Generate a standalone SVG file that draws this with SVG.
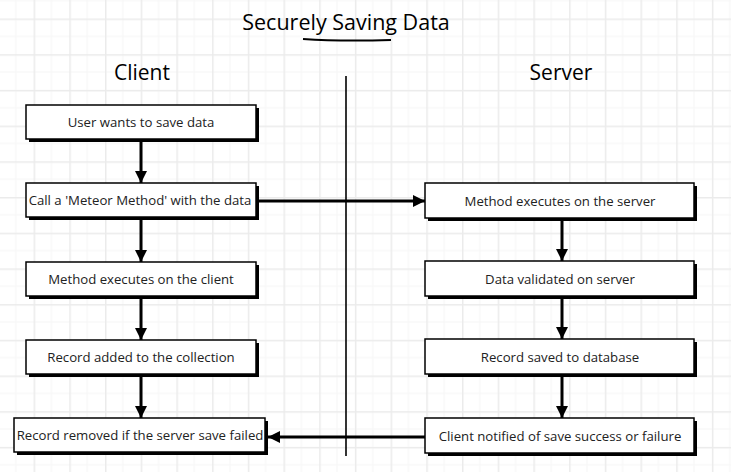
<svg xmlns="http://www.w3.org/2000/svg" width="731" height="472" viewBox="0 0 731 472">
<defs>
<pattern id="grid" x="-2.1" y="18.5" width="35.7" height="35.7" patternUnits="userSpaceOnUse">
<line x1="17.85" y1="0" x2="17.85" y2="35.7" stroke="#f5f5f5" stroke-width="1"/>
<line x1="0" y1="17.85" x2="35.7" y2="17.85" stroke="#f5f5f5" stroke-width="1"/>
<line x1="0.75" y1="0" x2="0.75" y2="35.7" stroke="#ebebeb" stroke-width="1.5"/>
<line x1="0" y1="0.75" x2="35.7" y2="0.75" stroke="#ebebeb" stroke-width="1.5"/>
</pattern>
<marker id="ah" markerUnits="userSpaceOnUse" markerWidth="14" markerHeight="14" refX="12" refY="7" orient="auto">
<path d="M0,1 L12,7 L0,13 Z" fill="#000"/>
</marker>
<style>
.shadow{fill:#000}
.box{fill:#fff;stroke:#000;stroke-width:1.5}
.lbl{font-family:"Open Sans","Liberation Sans",sans-serif;font-size:13.2px;fill:#222;text-anchor:middle;dominant-baseline:central}
.head{font-family:"Open Sans","Liberation Sans",sans-serif;fill:#000;text-anchor:middle}
.conn{stroke:#000;stroke-width:3;fill:none}
</style>
</defs>
<rect width="731" height="472" fill="#fff"/>
<rect width="731" height="472" fill="url(#grid)"/>

<g id="title">
<text class="head" x="346" y="30" font-size="21.5">Securely Saving Data</text>
<path d="M303,39 Q340,41.5 391,40" stroke="#000" stroke-width="2" fill="none"/>
</g>
<g id="client-header"><text class="head" x="142" y="80" font-size="21">Client</text></g>
<g id="server-header"><text class="head" x="561" y="80" font-size="21">Server</text></g>
<g id="divider"><line x1="346" y1="76" x2="346" y2="456" stroke="#000" stroke-width="1.6"/></g>

<g id="connectors">
<line class="conn" x1="141" y1="142" x2="141" y2="183" marker-end="url(#ah)"/>
<line class="conn" x1="141" y1="220" x2="141" y2="262" marker-end="url(#ah)"/>
<line class="conn" x1="141" y1="299" x2="141" y2="340" marker-end="url(#ah)"/>
<line class="conn" x1="141" y1="377" x2="141" y2="418" marker-end="url(#ah)"/>
<line class="conn" x1="259" y1="201" x2="425" y2="201" marker-end="url(#ah)"/>
<line class="conn" x1="562" y1="221" x2="562" y2="261" marker-end="url(#ah)"/>
<line class="conn" x1="562" y1="299" x2="562" y2="339" marker-end="url(#ah)"/>
<line class="conn" x1="562" y1="377" x2="562" y2="418" marker-end="url(#ah)"/>
<line class="conn" x1="425" y1="437" x2="268" y2="437" marker-end="url(#ah)"/>
</g>

<g id="n1"><rect class="shadow" x="29" y="108" width="230" height="34"/><rect class="box" x="26" y="105" width="230" height="34"/><text class="lbl" x="141" y="122">User wants to save data</text></g>
<g id="n2"><rect class="shadow" x="29" y="186" width="230" height="34"/><rect class="box" x="26" y="183" width="230" height="34"/><text class="lbl" x="140" y="200">Call a 'Meteor Method' with the data</text></g>
<g id="n3"><rect class="shadow" x="29" y="265" width="230" height="34"/><rect class="box" x="26" y="262" width="230" height="34"/><text class="lbl" x="141" y="279">Method executes on the client</text></g>
<g id="n4"><rect class="shadow" x="29" y="343" width="230" height="34"/><rect class="box" x="26" y="340" width="230" height="34"/><text class="lbl" x="141" y="357">Record added to the collection</text></g>
<g id="n5"><rect class="shadow" x="17" y="421" width="251" height="34"/><rect class="box" x="14" y="418" width="251" height="34"/><text class="lbl" x="140" y="435">Record removed if the server save failed</text></g>

<g id="s1"><rect class="shadow" x="428" y="186" width="269" height="35"/><rect class="box" x="425" y="183" width="269" height="35"/><text class="lbl" x="560" y="200.5">Method executes on the server</text></g>
<g id="s2"><rect class="shadow" x="428" y="264" width="269" height="35"/><rect class="box" x="425" y="261" width="269" height="35"/><text class="lbl" x="560" y="278.5">Data validated on server</text></g>
<g id="s3"><rect class="shadow" x="428" y="342" width="269" height="35"/><rect class="box" x="425" y="339" width="269" height="35"/><text class="lbl" x="560" y="356.5">Record saved to database</text></g>
<g id="s4"><rect class="shadow" x="428" y="421" width="269" height="35"/><rect class="box" x="425" y="418" width="269" height="35"/><text class="lbl" x="560" y="435.5">Client notified of save success or failure</text></g>
</svg>
